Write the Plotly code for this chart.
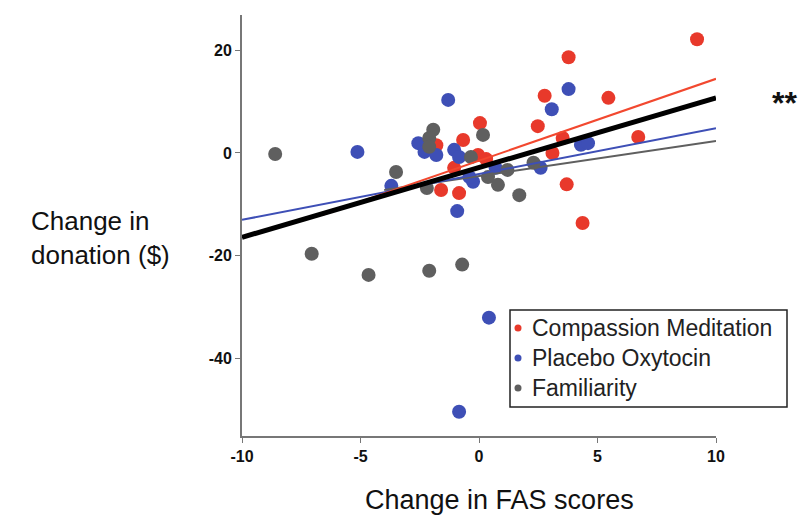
import plotly.graph_objects as go

# Compassion Meditation (red)
cm_x = [9.2, 3.78, 2.77, 5.46, 2.48, 6.72, 3.53, 3.1, 3.7, 4.37, 0.04, -0.67, -0.04, 0.3, -1.05, -1.6, -0.84, -1.8]
cm_y = [22.1, 18.6, 11.1, 10.7, 5.2, 3.1, 2.9, 0.0, -6.1, -13.6, 5.8, 2.5, -0.4, -1.2, -2.9, -7.2, -7.8, 1.5]

# Placebo Oxytocin (blue)
po_x = [-1.3, 3.78, 3.07, -5.13, -2.56, -2.3, -1.8, -1.05, -0.84, -3.7, -0.92, 0.42, -0.84, 4.3, 4.6, 2.6, 0.7, -0.25, -0.4]
po_y = [10.3, 12.4, 8.5, 0.2, 1.9, 0.2, -0.4, 0.6, -0.8, -6.4, -11.3, -32.0, -50.3, 1.6, 1.9, -2.9, -2.9, -5.6, -4.7]

# Familiarity (gray)
fa_x = [-8.6, -7.06, -4.66, -2.1, -0.71, -3.5, -1.93, -2.1, -2.1, -2.2, 0.17, -0.34, 2.3, 1.2, 0.38, 0.8, 1.7]
fa_y = [-0.2, -19.6, -23.7, -22.9, -21.7, -3.7, 4.5, 2.9, 1.2, -6.8, 3.5, -0.8, -1.9, -3.3, -4.7, -6.2, -8.2]

# Regression lines: [x_start, x_end], [y_start, y_end]
fit_cm_x, fit_cm_y = [-6.6, 10], [-12.0, 14.4]
fit_po_x, fit_po_y = [-10, 10], [-13.0, 4.8]
fit_fa_x, fit_fa_y = [-4.0, 10], [-7.2, 2.3]
fit_all_x, fit_all_y = [-10, 10], [-16.4, 10.7]

x_ticks = [-10, -5, 0, 5, 10]
x_tick_labels = ["-10", "-5", "0", "5", "10"]
y_ticks = [-40, -20, 0, 20]
y_tick_labels = ["-40", "-20", "0", "20"]

group_names = ["Compassion Meditation", "Placebo Oxytocin", "Familiarity"]

RED = "#e8392b"
BLUE = "#3e4fb6"
GRAY = "#5f5f5f"
group_colors = [RED, BLUE, GRAY]

fig = go.Figure()
msize = 14
for xs, ys, c, n in [(cm_x, cm_y, RED, group_names[0]), (po_x, po_y, BLUE, group_names[1]),
                     (fa_x, fa_y, GRAY, group_names[2])]:
    fig.add_trace(go.Scatter(x=xs, y=ys, mode="markers", name=n, showlegend=False,
                             marker=dict(size=msize, color=c, line=dict(width=0))))

fig.add_trace(go.Scatter(x=fit_fa_x, y=fit_fa_y, mode="lines", showlegend=False,
                         line=dict(color=GRAY, width=2)))
fig.add_trace(go.Scatter(x=fit_po_x, y=fit_po_y, mode="lines", showlegend=False,
                         line=dict(color=BLUE, width=2)))
fig.add_trace(go.Scatter(x=fit_cm_x, y=fit_cm_y, mode="lines", showlegend=False,
                         line=dict(color="#f2482f", width=2)))
fig.add_trace(go.Scatter(x=fit_all_x, y=fit_all_y, mode="lines", showlegend=False,
                         line=dict(color="black", width=5)))

# plot area: x 242..716, y 15..436 in window pixels (page body has 8px margin)
PL, PT, PW, PH = 242, 15, 474, 421
FW, FH = 799, 508


def px(xp):
    return (xp - PL) / PW


def py(yp):
    return (PT + PH - yp) / PH


fig.update_layout(
    width=FW, height=FH,
    margin=dict(l=PL - 8, r=FW - (PL - 8) - PW, t=PT - 8, b=FH - (PT - 8) - PH),
    paper_bgcolor="white", plot_bgcolor="white",
    font=dict(family="Liberation Sans, Arial, sans-serif", color="black"),
    showlegend=False,
    xaxis=dict(range=[-10, 10], tickvals=x_ticks, ticktext=x_tick_labels,
               showgrid=False, zeroline=False,
               showline=True, linecolor="#777", linewidth=2, ticks="outside",
               ticklen=5, tickcolor="#777",
               tickfont=dict(size=16, weight="bold", color="#111")),
    yaxis=dict(range=[-55, 26.8], tickvals=y_ticks, ticktext=y_tick_labels,
               showgrid=False, zeroline=False,
               showline=True, linecolor="#777", linewidth=2, ticks="outside",
               ticklen=5, tickcolor="#777",
               tickfont=dict(size=16, weight="bold", color="#111")),
)

# manual legend box
shapes = [dict(type="rect", xref="paper", yref="paper", x0=px(510), x1=px(787),
               y0=py(407), y1=py(310), line=dict(color="#222", width=1.5),
               fillcolor="white", layer="above")]
row_y = [328, 358, 388]
for name, c, ry in zip(group_names, group_colors, row_y):
    shapes.append(dict(type="circle", xref="paper", yref="paper",
                       xsizemode="pixel", ysizemode="pixel",
                       xanchor=px(518), yanchor=py(ry),
                       x0=-3.5, x1=3.5, y0=-3.5, y1=3.5,
                       fillcolor=c, line=dict(width=0), layer="above"))
    fig.add_annotation(text=name, xref="paper", yref="paper", x=px(530), y=py(ry),
                       xanchor="left", yanchor="middle", showarrow=False,
                       font=dict(size=23, color="#222"))
fig.update_layout(shapes=shapes)

fig.add_annotation(text="Change in<br>donation ($)", xref="paper", yref="paper",
                   x=px(29), y=py(238), xanchor="left", yanchor="middle",
                   showarrow=False, align="left",
                   font=dict(size=26, color="#111"))
fig.add_annotation(text="Change in FAS scores", xref="paper", yref="paper",
                   x=px(499), y=py(500), xanchor="center", yanchor="middle",
                   showarrow=False, font=dict(size=27, color="#111"))
fig.add_annotation(text="<b>**</b>", xref="paper", yref="paper",
                   x=px(770), y=py(103), xanchor="left", yanchor="middle",
                   showarrow=False, font=dict(size=32, color="#111"))

fig.write_html("out.html")
